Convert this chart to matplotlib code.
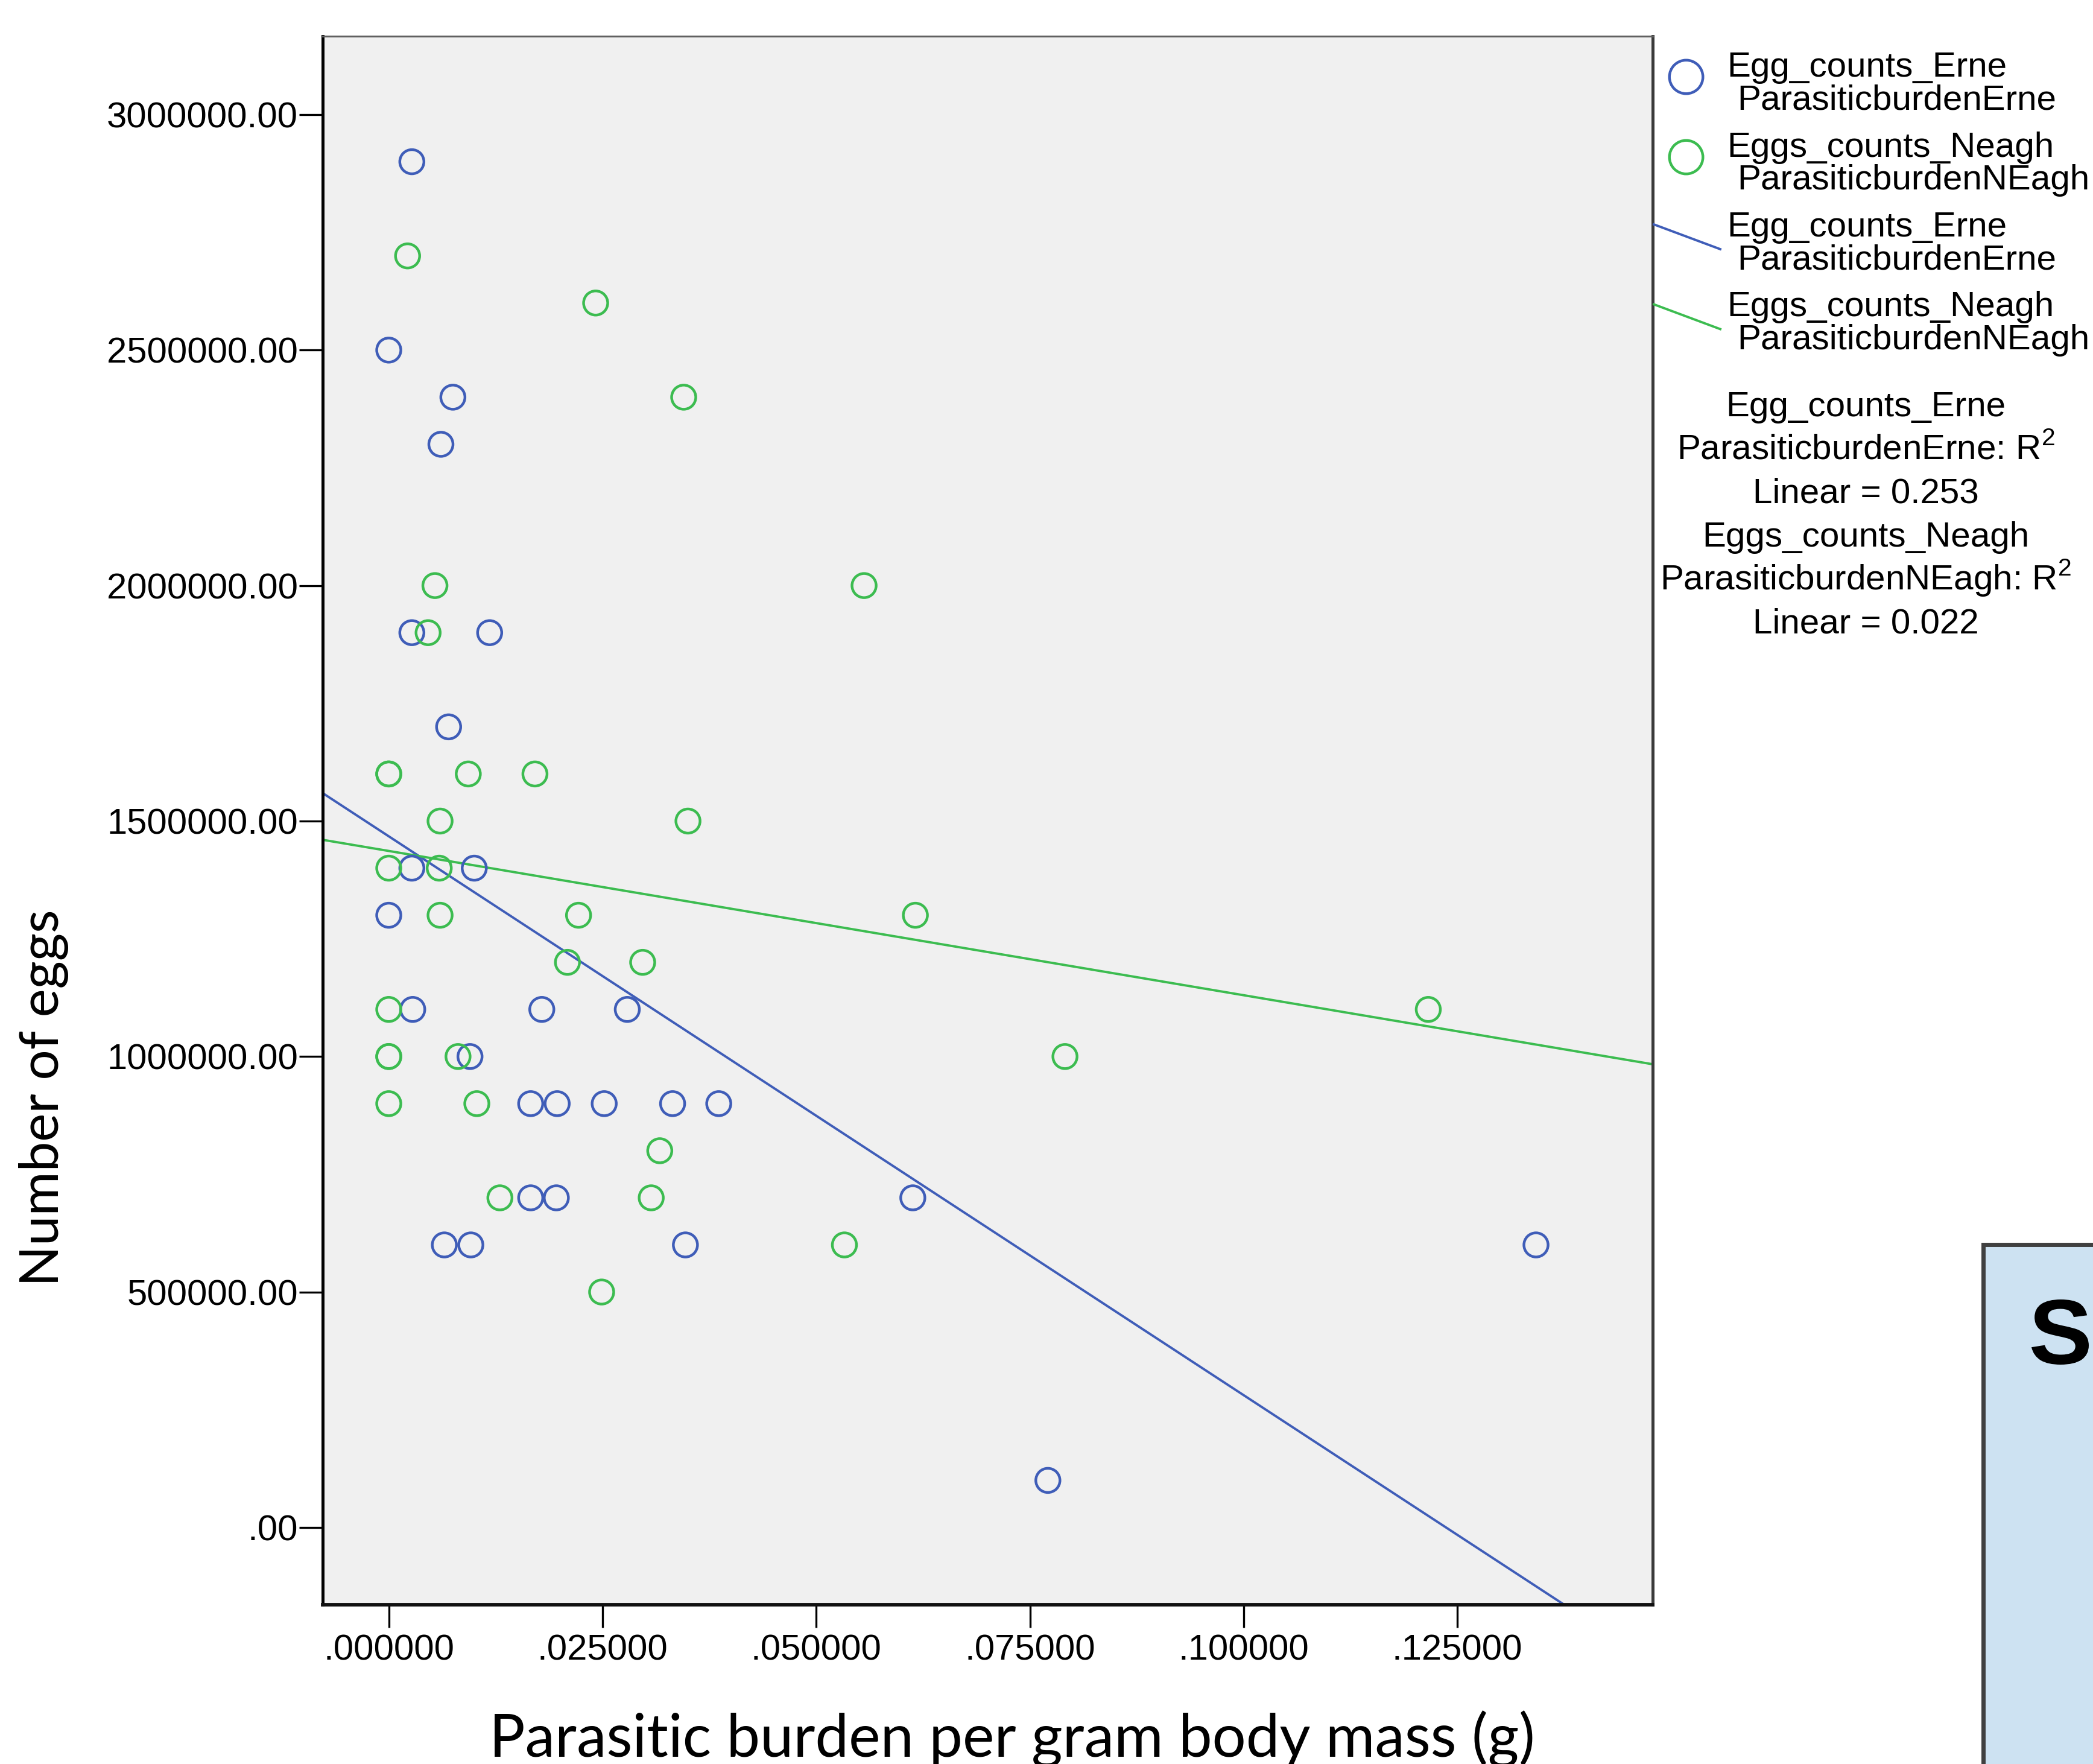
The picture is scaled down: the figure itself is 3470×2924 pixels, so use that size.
import numpy as np
import matplotlib
matplotlib.use("Agg")
import matplotlib.pyplot as plt
from matplotlib.lines import Line2D
from matplotlib.patches import Rectangle, PathPatch
from matplotlib.textpath import TextPath
from matplotlib.font_manager import FontProperties
from matplotlib.transforms import Affine2D, IdentityTransform

# data
erne_x = [0.0027, 0.0, 0.0075, 0.0061, 0.0027, 0.0118, 0.0070, 0.0027, 0.0100,
          0.0, 0.0028, 0.0179, 0.0279, 0.0095, 0.0166, 0.0197, 0.0252, 0.0332,
          0.0386, 0.0166, 0.0196, 0.0613, 0.0065, 0.0096, 0.0347, 0.0771, 0.1342]
erne_y = [2900000, 2500000, 2400000, 2300000, 1900000, 1900000, 1700000, 1400000,
          1400000, 1300000, 1100000, 1100000, 1100000, 1000000, 900000, 900000,
          900000, 900000, 900000, 700000, 700000, 700000, 600000, 600000, 600000,
          100000, 600000]

neagh_x = [0.0022, 0.0242, 0.0345, 0.0054, 0.0556, 0.0046, 0.0, 0.0, 0.0093,
           0.0171, 0.0060, 0.0350, 0.0, 0.0059, 0.0060, 0.0222, 0.0616, 0.0209,
           0.0297, 0.0, 0.1216, 0.0, 0.0, 0.0081, 0.0791, 0.0, 0.0103, 0.0317,
           0.0130, 0.0307, 0.0533, 0.0249]
neagh_y = [2700000, 2600000, 2400000, 2000000, 2000000, 1900000, 1600000, 1600000,
           1600000, 1600000, 1500000, 1500000, 1400000, 1400000, 1300000, 1300000,
           1300000, 1200000, 1200000, 1100000, 1100000, 1000000, 1000000, 1000000,
           1000000, 900000, 900000, 800000, 700000, 700000, 600000, 500000]

# linear fits (intercept, slope) as drawn in the chart
fit_erne = (1467600, -11866000)
fit_neagh = (1436500, -3063000)
r2_erne = 0.253
r2_neagh = 0.022

x_ticks = [0.0, 0.025, 0.05, 0.075, 0.10, 0.125]
x_ticklabels = [".000000", ".025000", ".050000", ".075000", ".100000", ".125000"]
y_ticks = [0, 500000, 1000000, 1500000, 2000000, 2500000, 3000000]
y_ticklabels = [".00", "500000.00", "1000000.00", "1500000.00", "2000000.00",
                "2500000.00", "3000000.00"]

names_erne = ("Egg_counts_Erne", "ParasiticburdenErne")
names_neagh = ("Eggs_counts_Neagh", "ParasiticburdenNEagh")

blue = "#3F5DB8"
green = "#3CBC50"

W, H = 3470, 2924
plt.rcParams["font.family"] = ["Liberation Sans", "DejaVu Sans"]
plt.rcParams["mathtext.fontset"] = "custom"
plt.rcParams["mathtext.rm"] = "Liberation Sans"

fig = plt.figure(figsize=(W / 100, H / 100), dpi=100)
fig.patch.set_facecolor("white")


def fx(px):
    return px / W


def fy(py):
    return 1 - py / H


ax = fig.add_axes([fx(535), fy(2660), 2205 / W, 2600 / H])
ax.set_facecolor("#F0F0F0")
ax.set_xlim(-0.00773, 0.14785)
ax.set_ylim(-164000, 3166500)

ax.scatter(erne_x, erne_y, s=830, facecolors="none", edgecolors=blue,
           linewidths=3.2, zorder=3)
ax.scatter(neagh_x, neagh_y, s=830, facecolors="none", edgecolors=green,
           linewidths=3.2, zorder=3)

xs = np.array(ax.get_xlim())
ax.plot(xs, fit_erne[0] + fit_erne[1] * xs, color=blue, lw=2.8, zorder=2)
ax.plot(xs, fit_neagh[0] + fit_neagh[1] * xs, color=green, lw=2.8, zorder=2)
ax.set_xlim(xs)

ax.set_xticks(x_ticks)
ax.set_xticklabels(x_ticklabels)
ax.set_yticks(y_ticks)
ax.set_yticklabels(y_ticklabels)
ax.tick_params(axis="both", direction="out", width=2.4, color="black",
               labelsize=43)
ax.tick_params(axis="y", length=28, pad=1.5)
ax.tick_params(axis="x", length=27, pad=8)

ax.spines["left"].set_linewidth(3.6)
ax.spines["bottom"].set_linewidth(4.2)
ax.spines["left"].set_color("black")
ax.spines["bottom"].set_color("#111111")
ax.spines["top"].set_linewidth(2.2)
ax.spines["top"].set_color("#606060")
ax.spines["right"].set_linewidth(3.6)
ax.spines["right"].set_color("#3A3A3A")

# axis titles
fig.text(fx(73), fy(1820), "Number of eggs", rotation=90, ha="center",
         va="center", fontsize=64, family=["Lato", "DejaVu Sans"])
fig.text(fx(1678), fy(2912), "Parasitic burden per gram body mass (g)",
         ha="center", va="baseline", fontsize=71.5, family=["Lato", "DejaVu Sans"])

# legend (drawn by hand, SPSS style)
leg_fs = 42
entries = [("marker", blue, names_erne), ("marker", green, names_neagh),
           ("line", blue, names_erne), ("line", green, names_neagh)]
for i, (kind, col, (l1, l2)) in enumerate(entries):
    base = 127 + 132.5 * i
    if kind == "marker":
        fig.add_artist(Line2D([fx(2794.5)], [fy(base)], marker="o",
                              markersize=40, markerfacecolor="none",
                              markeredgecolor=col, markeredgewidth=3.2,
                              linestyle="none"))
    else:
        y0 = base - 20
        fig.add_artist(Line2D([fx(2742), fx(2852)], [fy(y0), fy(y0 + 41)],
                              color=col, lw=2.8))
    fig.text(fx(2863), fy(base), l1, fontsize=leg_fs, va="baseline", ha="left")
    fig.text(fx(2880), fy(base + 54.5), l2, fontsize=leg_fs, va="baseline",
             ha="left")

r2_lines = [names_erne[0], names_erne[1] + ": R$^2$", "Linear = %.3f" % r2_erne,
            names_neagh[0], names_neagh[1] + ": R$^2$", "Linear = %.3f" % r2_neagh]
for j, txt in enumerate(r2_lines):
    fig.text(fx(3093), fy(690 + 72 * j), txt, fontsize=leg_fs, va="baseline",
             ha="center")

# cropped neighbouring panel at bottom right
fig.add_artist(Rectangle((fx(3288), fy(3100)), 0.2, (3100 - 2063) / H,
                         transform=fig.transFigure, facecolor="#CDE2F2",
                         edgecolor="#404040", linewidth=5))
tp = TextPath((0, 0), "S", size=100,
              prop=FontProperties(family="Liberation Sans", weight="bold"))
bb = tp.get_extents()
sx = 95 / bb.width
sy = 108 / bb.height
tr = Affine2D().translate(-bb.x0, -bb.y0).scale(sx, sy).translate(3368, H - 2262)
fig.add_artist(PathPatch(tr.transform_path(tp), facecolor="black",
                         edgecolor="none", transform=IdentityTransform()))

fig.savefig("out.png", dpi=100, facecolor="white")
